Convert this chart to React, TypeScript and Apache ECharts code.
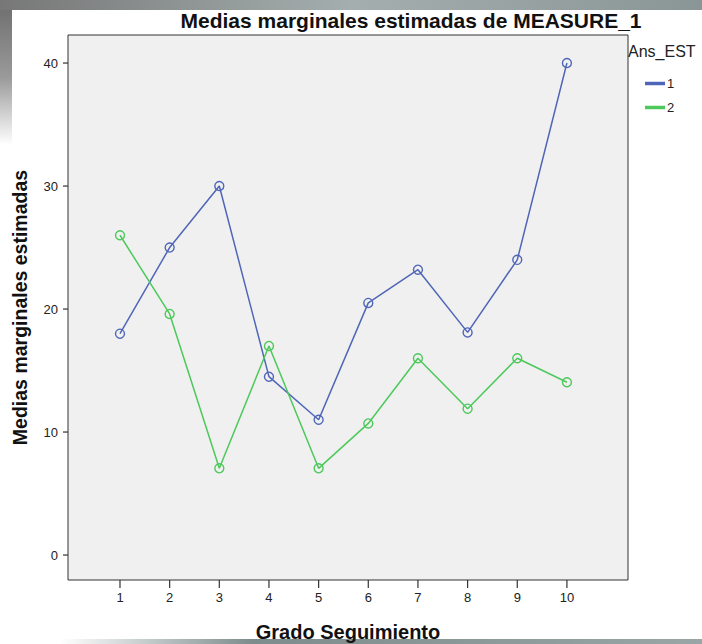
import React, { useEffect, useRef } from "react";
import * as echarts from "echarts";

const categories = [1, 2, 3, 4, 5, 6, 7, 8, 9, 10];
const serie1 = [18, 25, 30, 14.5, 11, 20.5, 23.2, 18.1, 24, 40];
const serie2 = [26, 19.6, 7.05, 17, 7.05, 10.7, 16, 11.9, 16, 14.05];
const yTicks = [0, 10, 20, 30, 40];
const seriesNames = ["1", "2"];

const X_MIN = -0.047;
const X_MAX = 11.23;
const Y_MIN = -2.03;
const Y_MAX = 42.28;

const FONT = "'Liberation Sans', Arial, sans-serif";

export default function App() {
  const ref = useRef<HTMLDivElement>(null);
  useEffect(() => {
    if (!ref.current) return;
    const chart = echarts.init(ref.current, undefined, { renderer: "svg" });
    const mk = (name: string, vals: number[], color: string) => ({
      name,
      type: "line",
      data: categories.map((c, i) => [c, vals[i]]),
      symbol: "circle",
      symbolSize: 9,
      showSymbol: true,
      lineStyle: { color, width: 1.5 },
      itemStyle: { color: "transparent", borderColor: color, borderWidth: 1.4 },
      color,
      z: 3,
    });
    const tickStyle = { stroke: "#333333", lineWidth: 1.2 };
    const xTickSeries = {
      name: "xticks",
      type: "custom",
      clip: false,
      silent: true,
      z: 20,
      data: categories.map((v) => [v]),
      renderItem: (_p: any, api: any) => {
        const pt = api.coord([api.value(0), Y_MIN]);
        return {
          type: "line",
          shape: { x1: pt[0], y1: pt[1], x2: pt[0], y2: pt[1] + 8 },
          style: tickStyle,
        };
      },
    };
    const yTickSeries = {
      name: "yticks",
      type: "custom",
      clip: false,
      silent: true,
      z: 20,
      data: yTicks.map((v) => [X_MIN, v]),
      renderItem: (_p: any, api: any) => {
        const pt = api.coord([X_MIN, api.value(1)]);
        return {
          type: "line",
          shape: { x1: pt[0] - 5, y1: pt[1], x2: pt[0], y2: pt[1] },
          style: tickStyle,
        };
      },
    };
    chart.setOption({
      animation: false,
      backgroundColor: "#ffffff",
      textStyle: { fontFamily: FONT },
      title: {
        text: "Medias marginales estimadas de MEASURE_1",
        left: 406,
        textAlign: "center",
        top: 5,
        textStyle: { fontFamily: FONT, fontSize: 21, fontWeight: "bold", color: "#111" },
        z: 10,
      },
      grid: {
        left: 68,
        top: 35,
        width: 560,
        height: 545,
        outerBoundsMode: "none",
        containLabel: false,
        show: true,
        backgroundColor: "#f0f0f0",
        borderColor: "#333",
        borderWidth: 1,
      },
      legend: {
        orient: "vertical",
        left: 640,
        top: 72,
        itemWidth: 18,
        itemHeight: 1.5,
        itemGap: 11,
        icon: "rect",
        data: seriesNames,
        textStyle: { fontFamily: FONT, fontSize: 13, color: "#222", padding: [0, 0, 0, -2] },
      },
      xAxis: {
        type: "value",
        min: X_MIN,
        max: X_MAX,
        name: "Grado Seguimiento",
        nameLocation: "middle",
        nameGap: 42,
        nameTextStyle: { fontFamily: FONT, fontSize: 20, fontWeight: "bold", color: "#111" },
        axisLine: { show: false, onZero: false },
        splitLine: { show: false },
        axisTick: { show: false },
        axisLabel: {
          customValues: categories,
          fontFamily: FONT,
          fontSize: 13,
          color: "#222",
          margin: 11,
        },
      },
      yAxis: {
        type: "value",
        min: Y_MIN,
        max: Y_MAX,
        name: "Medias marginales estimadas",
        nameLocation: "middle",
        nameGap: 38,
        nameTextStyle: { fontFamily: FONT, fontSize: 19.5, fontWeight: "bold", color: "#111" },
        axisLine: { show: false, onZero: false },
        splitLine: { show: false },
        axisTick: { show: false },
        axisLabel: {
          customValues: yTicks,
          fontFamily: FONT,
          fontSize: 13,
          color: "#222",
          margin: 10,
        },
      },
      graphic: [
        {
          type: "rect",
          left: 0,
          top: 0,
          shape: { width: 702, height: 10 },
          style: {
            fill: new echarts.graphic.LinearGradient(0, 0, 1, 0, [
              { offset: 0, color: "#777777" },
              { offset: 0.5, color: "#a4aeae" },
              { offset: 1, color: "#8a9595" },
            ]),
          },
          z: 0,
        },
        {
          type: "rect",
          left: 0,
          top: 10,
          shape: { width: 12, height: 135 },
          style: {
            fill: new echarts.graphic.LinearGradient(0, 0, 0, 1, [
              { offset: 0, color: "#727272" },
              { offset: 0.5, color: "#9a9a9a" },
              { offset: 1, color: "#ffffff" },
            ]),
          },
          z: 0,
        },
        {
          type: "rect",
          left: 60,
          top: 639,
          shape: { width: 642, height: 5 },
          style: {
            fill: new echarts.graphic.LinearGradient(0, 0, 1, 0, [
              { offset: 0, color: "#ffffff" },
              { offset: 0.3, color: "#7d8c8c" },
              { offset: 1, color: "#9aa6a6" },
            ]),
          },
          z: 0,
        },
        {
          type: "text",
          left: 628,
          top: 43,
          style: { text: "Ans_EST", fontFamily: FONT, fontSize: 16, fill: "#222" },
          z: 10,
        },
      ],
      series: [
        mk(seriesNames[0], serie1, "#4f66b8"),
        mk(seriesNames[1], serie2, "#4cc95a"),
        xTickSeries,
        yTickSeries,
      ],
    });

    return () => chart.dispose();
  }, []);
  return <div ref={ref} style={{ width: 702, height: 644, position: "absolute", left: 0, top: 0 }} />;
}
